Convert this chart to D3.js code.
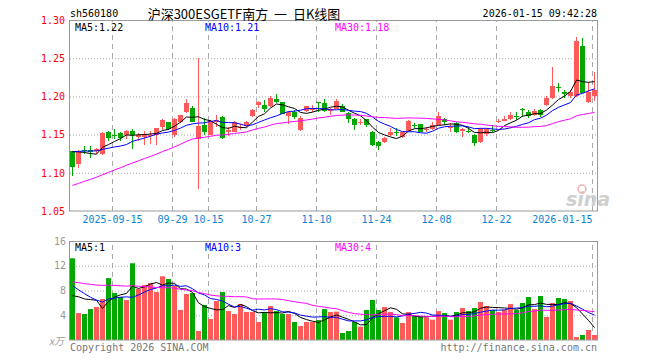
<!DOCTYPE html>
<html><head><meta charset="utf-8">
<script src="https://cdn.jsdelivr.net/npm/d3@7"></script>
<style>body{margin:0;background:#fff}svg{display:block}</style>
</head><body><svg id="c" width="660" height="360"></svg>
<script>
// ---------- data ----------
const dates = ["2025-09-04","2025-09-05","2025-09-08","2025-09-09","2025-09-10","2025-09-11","2025-09-12","2025-09-15","2025-09-16","2025-09-17","2025-09-18","2025-09-19","2025-09-22","2025-09-23","2025-09-24","2025-09-25","2025-09-26","2025-09-29","2025-09-30","2025-10-09","2025-10-10","2025-10-13","2025-10-14","2025-10-15","2025-10-16","2025-10-17","2025-10-20","2025-10-21","2025-10-22","2025-10-23","2025-10-24","2025-10-27","2025-10-28","2025-10-29","2025-10-30","2025-10-31","2025-11-03","2025-11-04","2025-11-05","2025-11-06","2025-11-07","2025-11-10","2025-11-11","2025-11-12","2025-11-13","2025-11-14","2025-11-17","2025-11-18","2025-11-19","2025-11-20","2025-11-21","2025-11-24","2025-11-25","2025-11-26","2025-11-27","2025-11-28","2025-12-01","2025-12-02","2025-12-03","2025-12-04","2025-12-05","2025-12-08","2025-12-09","2025-12-10","2025-12-11","2025-12-12","2025-12-15","2025-12-16","2025-12-17","2025-12-18","2025-12-19","2025-12-22","2025-12-23","2025-12-24","2025-12-25","2025-12-26","2025-12-29","2025-12-30","2025-12-31","2026-01-05","2026-01-06","2026-01-07","2026-01-08","2026-01-09","2026-01-12","2026-01-13","2026-01-14","2026-01-15"];
const open  = [1.128,1.111,1.130,1.130,1.128,1.124,1.154,1.150,1.152,1.149,1.155,1.147,1.147,1.148,1.149,1.160,1.166,1.149,1.166,1.179,1.185,1.144,1.162,1.150,1.166,1.173,1.154,1.154,1.159,1.161,1.174,1.189,1.189,1.187,1.197,1.193,1.175,1.180,1.156,1.181,1.182,1.193,1.192,1.181,1.184,1.187,1.178,1.170,1.166,1.170,1.154,1.140,1.140,1.150,1.153,1.147,1.155,1.163,1.164,1.156,1.157,1.163,1.170,1.158,1.165,1.155,1.155,1.150,1.140,1.151,1.156,1.167,1.168,1.170,1.175,1.183,1.180,1.176,1.182,1.189,1.198,1.212,1.206,1.201,1.200,1.266,1.193,1.200];
const high  = [1.129,1.130,1.135,1.135,1.132,1.154,1.155,1.157,1.153,1.156,1.157,1.152,1.155,1.155,1.159,1.171,1.167,1.172,1.176,1.197,1.187,1.250,1.172,1.169,1.176,1.174,1.160,1.168,1.164,1.168,1.183,1.194,1.195,1.200,1.203,1.193,1.181,1.182,1.175,1.188,1.189,1.193,1.197,1.185,1.196,1.190,1.180,1.172,1.171,1.171,1.155,1.142,1.147,1.158,1.159,1.153,1.169,1.165,1.164,1.160,1.166,1.179,1.172,1.165,1.167,1.159,1.160,1.151,1.159,1.159,1.162,1.170,1.174,1.180,1.180,1.185,1.182,1.183,1.183,1.200,1.239,1.218,1.209,1.209,1.278,1.276,1.219,1.232];
const low   = [1.096,1.106,1.124,1.119,1.124,1.123,1.141,1.144,1.141,1.144,1.131,1.142,1.137,1.138,1.137,1.156,1.156,1.147,1.165,1.178,1.166,1.079,1.149,1.150,1.160,1.144,1.148,1.153,1.156,1.160,1.173,1.185,1.180,1.186,1.191,1.177,1.164,1.170,1.155,1.180,1.180,1.180,1.179,1.176,1.183,1.179,1.165,1.156,1.163,1.160,1.135,1.130,1.139,1.148,1.148,1.145,1.153,1.158,1.153,1.154,1.156,1.163,1.163,1.153,1.152,1.147,1.152,1.135,1.139,1.148,1.153,1.165,1.168,1.169,1.169,1.173,1.172,1.174,1.173,1.187,1.197,1.206,1.198,1.198,1.199,1.204,1.192,1.194];
const close = [1.107,1.128,1.129,1.127,1.131,1.152,1.146,1.149,1.146,1.155,1.149,1.150,1.150,1.150,1.158,1.169,1.157,1.171,1.176,1.192,1.167,1.161,1.153,1.168,1.169,1.145,1.156,1.167,1.160,1.167,1.182,1.193,1.184,1.198,1.193,1.177,1.180,1.173,1.172,1.187,1.185,1.192,1.181,1.184,1.194,1.180,1.170,1.162,1.167,1.163,1.137,1.135,1.146,1.154,1.152,1.153,1.168,1.162,1.154,1.157,1.163,1.174,1.166,1.160,1.154,1.157,1.154,1.139,1.158,1.157,1.155,1.168,1.171,1.176,1.174,1.182,1.174,1.181,1.176,1.198,1.214,1.211,1.203,1.206,1.273,1.204,1.206,1.208];
const volume = [13.2,4.36,4.2,5.0,5.33,6.62,10.0,7.6,6.95,6.46,12.4,8.24,8.89,9.21,7.75,10.3,9.85,8.72,4.85,7.43,7.6,1.45,5.65,3.39,6.3,7.75,4.68,4.2,5.81,4.52,4.52,2.91,4.52,5.49,4.68,4.2,4.2,2.91,2.26,2.91,2.91,3.23,5.0,4.52,4.58,1.13,1.45,2.91,2.15,4.85,6.46,4.85,5.33,4.52,3.66,2.75,4.52,3.88,3.88,3.66,3.28,4.68,4.36,3.28,4.52,5.17,4.68,5.17,6.14,5.49,4.85,4.52,4.85,5.81,4.85,5.98,6.95,5.0,7.11,3.72,5.98,6.79,6.62,6.3,0.48,0.81,1.62,0.81];
// closes / volumes of the 29 sessions before the window (needed for the moving averages)
const histClose = [1.045,1.047,1.049,1.050,1.052,1.054,1.055,1.057,1.059,1.060,1.062,1.064,1.066,1.067,1.069,1.071,1.073,1.075,1.076,1.078,1.120,1.124,1.127,1.129,1.132,1.131,1.133,1.134,1.135];
const histVolume = [8.2,9.0,8.5,8.8,8.3,9.1,8.4,8.7,8.5,10.2,11.0,10.5,10.9,10.4,10.8,10.6,10.3,11.1,10.4,10.5,11.0,10.5,10.8,9.9,9.8,5.2,6.0,5.5,5.9];
const priceTicks = [1.30,1.25,1.20,1.15,1.10,1.05];
const volTicks = [16,12,8,4];
const tickDates = ["2025-09-15","2025-09-29","2025-10-15","2025-10-27","2025-11-10","2025-11-24","2025-12-08","2025-12-22","2026-01-15"];
const tickLabels = ["2025-09-15","09-29","10-15","10-27","11-10","11-24","12-08","12-22","2026-01-15"];
const maPeriods = [5,10,30];
const priceMaText = ["MA5:1.22","MA10:1.21","MA30:1.18"];
const volMaText = ["MA5:1","MA10:3","MA30:4"];

// ---------- layout ----------
const L = 70, R = 598, mTop = 20, mBot = 211, vTop = 241, vBot = 340;
const RED = "#ff5a5a", GREEN = "#00a800", GRID = "#aaaaaa", FRAME = "#999999";
const maColors = ["#000000","#0000ff","#ff00ff"];
const mono = "'DejaVu Sans Mono', monospace";

const svg = d3.select("#c");
const xb = d3.scaleBand().domain(dates).range([L, L + 6 * dates.length]).padding(0);
const xp = d3.scalePoint().domain(dates).range([L, L + 6 * (dates.length - 1)]);
const y = d3.scaleLinear().domain([1.05, 1.30]).range([mBot, mTop]);
const yv = d3.scaleLinear().domain([0, 16]).range([vBot, vTop]);

function ma(series, hist, n) {
  const all = hist.concat(series);
  return series.map((_, i) => d3.mean(all.slice(i + hist.length - n + 1, i + hist.length + 1)));
}

// ---------- grids ----------
function vGrid(top, bot) {
  const g = svg.append("g").attr("transform", `translate(0,${bot})`)
    .call(d3.axisBottom(xp).tickValues(tickDates).tickSize(-(bot - top)).tickFormat(""));
  g.select(".domain").remove();
  g.selectAll("line").attr("stroke", GRID).attr("stroke-dasharray", "5,4");
}
function hGrid(scale, vals) {
  const g = svg.append("g").attr("transform", `translate(${L},0)`)
    .call(d3.axisLeft(scale).tickValues(vals).tickSize(-(R - L)).tickFormat(""));
  g.select(".domain").remove();
  g.selectAll("line").attr("stroke", GRID).attr("stroke-dasharray", "1,2");
}
vGrid(mTop, mBot); vGrid(vTop, vBot);
hGrid(y, [1.25, 1.20, 1.15, 1.10]);
hGrid(yv, [12, 8, 4]);

// ---------- watermark ----------
svg.append("text").attr("x", 566).attr("y", 206).text("sina")
  .attr("font-family", "'DejaVu Sans', sans-serif").attr("font-size", 19).attr("font-weight", "bold")
  .attr("font-style", "italic").attr("fill", "#cfcfcf");
svg.append("circle").attr("cx", 582).attr("cy", 189).attr("r", 4)
  .attr("fill", "none").attr("stroke", "#f2b0b0").attr("stroke-width", 1.5);

// ---------- candles ----------
const up = i => close[i] >= open[i];
const cg = svg.append("g");
dates.forEach((d, i) => {
  const col = up(i) ? RED : GREEN;
  const x0 = xb(d);
  const yh = Math.round(y(high[i])), yl = Math.round(y(low[i]));
  cg.append("rect").attr("x", x0 + 2).attr("y", yh).attr("width", 1).attr("height", Math.max(1, yl - yh)).attr("fill", col);
  const yo = Math.round(y(open[i])), yc = Math.round(y(close[i]));
  cg.append("rect").attr("x", x0).attr("y", Math.min(yo, yc)).attr("width", xb.bandwidth() - 1)
    .attr("height", Math.max(1, Math.abs(yo - yc))).attr("fill", col);
});

// ---------- volume bars ----------
svg.append("g").selectAll("rect").data(volume).join("rect")
  .attr("x", (v, i) => xb(dates[i])).attr("width", xb.bandwidth() - 1)
  .attr("y", v => yv(v)).attr("height", v => vBot - yv(v))
  .attr("fill", (v, i) => up(i) ? RED : GREEN);

// ---------- moving averages ----------
maPeriods.forEach((n, j) => {
  const pm = ma(close, histClose, n);
  const vm = ma(volume, histVolume, n);
  const lineP = d3.line().x((v, i) => xb(dates[i]) + 2.5).y(v => y(v));
  const lineV = d3.line().x((v, i) => xb(dates[i]) + 2.5).y(v => yv(v));
  svg.append("path").attr("d", lineP(pm)).attr("fill", "none").attr("stroke", maColors[j]).attr("stroke-width", 1);
  svg.append("path").attr("d", lineV(vm)).attr("fill", "none").attr("stroke", maColors[j]).attr("stroke-width", 1);
});

// ---------- frames ----------
[[mTop, mBot], [vTop, vBot]].forEach(([t, b]) => {
  svg.append("rect").attr("x", L - 0.5).attr("y", t + 0.5).attr("width", R - L).attr("height", b - t - 0.5)
    .attr("fill", "none").attr("stroke", FRAME).attr("stroke-width", 1);
});

// ---------- axes labels ----------
const ay = svg.append("g").attr("transform", "translate(65,0)")
  .call(d3.axisLeft(y).tickValues(priceTicks).tickSize(0).tickPadding(0).tickFormat(d3.format(".2f")));
ay.select(".domain").remove();
ay.selectAll("text").attr("fill", "#ff0000").attr("font-family", mono).attr("font-size", 10);

const av = svg.append("g").attr("transform", "translate(66,0)")
  .call(d3.axisLeft(yv).tickValues(volTicks).tickSize(0).tickPadding(0));
av.select(".domain").remove();
av.selectAll("text").attr("fill", "#999999").attr("font-family", mono).attr("font-size", 10);
svg.append("text").attr("x", 64).attr("y", 340).attr("text-anchor", "end").attr("dominant-baseline", "central")
  .attr("fill", "#999999").attr("font-size", 10).attr("font-style", "italic")
  .attr("font-family", "'Noto Sans CJK SC', sans-serif").text("x万");

const ax = svg.append("g").attr("transform", `translate(0,${mBot})`)
  .call(d3.axisBottom(xp).tickValues(tickDates).tickSize(0).tickPadding(5)
    .tickFormat(d => tickLabels[tickDates.indexOf(d)]));
ax.select(".domain").remove();
ax.selectAll("text").attr("fill", "#0a84d6").attr("font-family", mono).attr("font-size", 10);
ax.selectAll(".tick").filter((d, i, n) => i === n.length - 1).select("text").attr("text-anchor", "end");

// ---------- header / MA texts ----------
function txt(x, yy, s, opt = {}) {
  return svg.append("text").attr("x", x).attr("y", yy).attr("dominant-baseline", "central")
    .attr("font-family", opt.font || mono).attr("font-size", opt.size || 10)
    .attr("fill", opt.fill || "#000").attr("text-anchor", opt.anchor || "start")
    .style("white-space", "pre").text(s);
}
txt(70, 13, "sh560180");
txt(244, 13, "沪深300ESGETF南方\u00a0\u00a0一\u00a0\u00a0日K线图", {font: "'Noto Sans CJK SC', sans-serif", size: 13, anchor: "middle"});
txt(597, 13, "2026-01-15 09:42:28", {anchor: "end"});
const maX = [75, 205, 335];
priceMaText.forEach((s, j) => txt(maX[j], 27, s, {fill: maColors[j]}));
volMaText.forEach((s, j) => txt(maX[j], 247, s, {fill: maColors[j]}));
txt(70, 347, "Copyright 2026 SINA.COM", {fill: "#777777"});
txt(597, 347, "http://finance.sina.com.cn", {fill: "#777777", anchor: "end"});
</script></body></html>
